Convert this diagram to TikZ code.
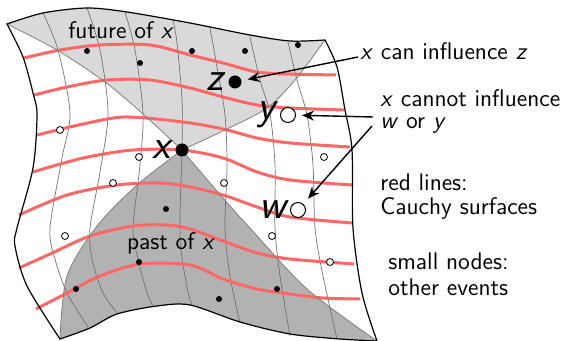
\documentclass[tikz,border=0pt]{standalone}
\usetikzlibrary{arrows.meta,calc,positioning}
\usepackage{xcolor}
\renewcommand{\familydefault}{\sfdefault}
\definecolor{cauchyred}{HTML}{FF6666}
\tikzset{
  sheetedge/.style={black,line width=0.6pt},
  gridline/.style={black!55,line width=0.35pt},
  cauchy/.style={cauchyred,line width=1.5pt},
  conebd/.style={black!50,line width=0.4pt},
  bigev/.style={circle,fill=black,inner sep=0pt,minimum size=6.5pt},
  bigopen/.style={circle,draw=black,fill=white,line width=0.5pt,inner sep=0pt,minimum size=7.5pt},
  smallev/.style={circle,fill=black,inner sep=0pt,minimum size=3pt},
  smallopen/.style={circle,draw=black,fill=white,line width=0.4pt,inner sep=0pt,minimum size=3.5pt},
  evlabel/.style={font=\huge\itshape,inner sep=1pt},
  note/.style={font=\large,align=left,inner sep=1pt},
  infl/.style={-{Stealth[length=6pt,width=5pt]},line width=0.7pt},
}

\begin{document}
\begin{tikzpicture}[x=0.5pt,y=-0.5pt]
  \useasboundingbox (0,0) rectangle (567,341);
  % Future of x
  \fill[black!15] plot[smooth] coordinates {(7,24) (57,50) (105,82) (143,114) (182,150)}
    -- plot[smooth] coordinates {(182,150) (227,129) (267,108) (295,80) (325,40)}
    -- plot[smooth] coordinates {(325,40) (290,41) (250,35) (190,23) (127,12) (87,8) (43,13) (7,24)} -- cycle;
  % Past of x
  \fill[black!30] plot[smooth] coordinates {(182,150) (137,185) (97,226) (67,276) (60,339)}
    -- plot[smooth] coordinates {(60,339) (90,328) (117,314) (157,306) (190,305) (240,322) (290,334) (340,339) (377,341)}
    -- plot[smooth] coordinates {(377,341) (307,289) (250,228) (223,198) (182,150)} -- cycle;
  % Grid lines
  \draw[gridline] plot[smooth] coordinates {(43,13) (58,50) (70,113) (62,158) (50,228) (55,259) (67,293) (88,327)};
  \draw[gridline] plot[smooth] coordinates {(87,8) (100,50) (108,113) (100,172) (90,228) (92,259) (103,293) (118,314)};
  \draw[gridline] plot[smooth] coordinates {(125,12) (135,50) (143,113) (140,165) (133,228) (138,259) (147,293) (153,306)};
  \draw[gridline] plot[smooth] coordinates {(173,20) (177,43) (182,100) (182,150) (180,237) (187,287) (192,305)};
  \draw[gridline] plot[smooth] coordinates {(210,28) (217,67) (225,115) (227,165) (225,228) (230,276) (240,323)};
  \draw[gridline] plot[smooth] coordinates {(250,37) (260,80) (270,114) (275,165) (275,228) (280,276) (290,336)};
  \draw[gridline] plot[smooth] coordinates {(288,42) (297,80) (307,115) (313,165) (315,228) (323,276) (337,339)};
  % Cauchy surfaces
  \draw[cauchy] plot[smooth] coordinates {(24,58) (60,50) (100,45) (150,45) (190,55) (223,63) (257,72) (290,74) (336,75)};
  \draw[cauchy] plot[smooth] coordinates {(34,95) (67,87) (107,80) (150,80) (190,88) (223,97) (257,105) (290,108) (344,110)};
  \draw[cauchy] plot[smooth] coordinates {(37,135) (83,124) (125,117) (183,122) (223,129) (257,138) (290,143) (350,147)};
  \draw[cauchy] plot[smooth] coordinates {(33,172) (83,158) (133,150) (182,150) (223,158) (257,172) (290,180) (352,185)};
  \draw[cauchy] plot[smooth] coordinates {(19,215) (67,195) (117,185) (160,183) (190,187) (223,195) (257,207) (290,217) (352,223)};
  \draw[cauchy] plot[smooth] coordinates {(19,268) (50,254) (90,236) (133,226) (167,225) (190,229) (223,241) (257,253) (290,259) (354,264)};
  \draw[cauchy] plot[smooth] coordinates {(36,309) (67,293) (100,276) (140,264) (190,265) (223,279) (257,289) (290,294) (323,298) (360,299)};
  % Cone boundaries
  \draw[conebd] plot[smooth] coordinates {(7,24) (57,50) (105,82) (143,114) (182,150)};
  \draw[conebd] plot[smooth] coordinates {(182,150) (227,129) (267,108) (295,80) (325,40)};
  \draw[conebd] plot[smooth] coordinates {(182,150) (137,185) (97,226) (67,276) (60,339)};
  \draw[conebd] plot[smooth] coordinates {(182,150) (223,198) (250,228) (307,289) (377,341)};
  % Sheet outline
  \draw[sheetedge] plot[smooth] coordinates {(7,24) (43,13) (87,8) (127,12) (190,23) (250,35) (290,41) (325,40)}
    -- plot[smooth] coordinates {(325,40) (337,67) (345,110) (352,150) (353,228) (362,293) (377,341)}
    -- plot[smooth] coordinates {(377,341) (340,339) (290,334) (240,322) (190,305) (157,306) (117,314) (90,328) (60,339)}
    -- plot[smooth] coordinates {(60,339) (27,286) (15,246) (17,228) (33,168) (37,115) (33,93) (23,57) (7,24)} -- cycle;
  % Other events
  \foreach \p [count=\i] in {(87,51),(140,63),(192,51),(245,51),(298,45),(166,209),(76,289),(139,262),(219,299),(277,289)}
    \node[smallev] (e\i) at \p {};
  \foreach \p [count=\i] in {(60,130),(139,157),(113,183),(65,236),(224,183),(324,157),(272,236),(330,262)}
    \node[smallopen] (o\i) at \p {};
  % Named events
  \node[bigev] (x) at (182,150) {};
  \node[bigev] (z) at (235,82) {};
  \node[bigopen] (y) at (288,115) {};
  \node[bigopen] (w) at (298,210) {};
  \node[evlabel,left=1pt of x] (xlbl) {x};
  \node[evlabel,left=1pt of z] (zlbl) {z};
  \node[evlabel,left=1pt of y] (ylbl) {y};
  \node[evlabel,left=1pt of w] (wlbl) {w};
  % Region labels
  \node[note,anchor=base] (futlbl) at (121,39) {future of \textit{x}};
  \node[note,anchor=base] (pastlbl) at (171,250) {past of \textit{x}};
  % Notes
  \node[note,anchor=base west] (canlbl) at (358,60) {\textit{x} can influence \textit{z}};
  \node[note,font=\fontsize{12}{11}\selectfont,anchor=base west] (cannotlbl) at (378,129) {\textit{x} cannot influence\\\textit{w} or \textit{y}};
  \node[note,font=\fontsize{12}{12}\selectfont,anchor=base west] (redlbl) at (378,215) {red lines:\\Cauchy surfaces};
  \node[note,font=\fontsize{12}{13}\selectfont,anchor=base west] (smalllbl) at (386,296) {small nodes:\\other events};
  % Arrows
  \draw[infl,shorten >=3pt] ([yshift=1.5pt]canlbl.base west) -- (z);
  \draw[infl,shorten >=3pt] ([xshift=-2.5pt,yshift=6pt]cannotlbl.base west) -- (y);
  \draw[infl,shorten >=3.5pt] ([xshift=-3pt,yshift=1.5pt]cannotlbl.base west) -- (w);
\end{tikzpicture}
\end{document}
